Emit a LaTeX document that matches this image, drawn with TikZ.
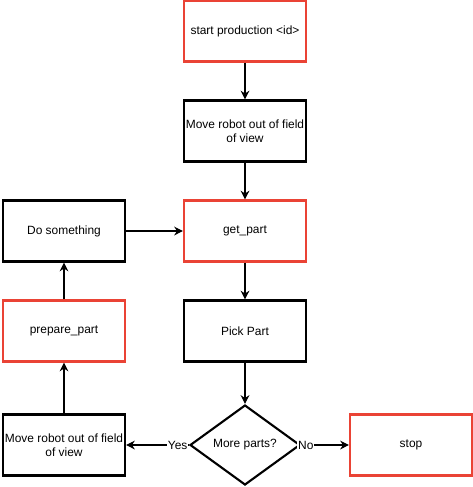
\documentclass[tikz,border=0pt]{standalone}
\usepackage{fontspec}
\setmainfont{Liberation Sans}
\usetikzlibrary{shapes.geometric,arrows.meta}
\definecolor{stepred}{RGB}{234,67,53}
\begin{document}
\begin{tikzpicture}[x=0.02cm,y=-0.02cm,font=\fontsize{6.8}{8.2}\selectfont]
        \tikzstyle{task}=[rectangle,draw=black,line width=1.2pt,fill=white,minimum width=2.44cm,minimum height=1.22cm,align=center,inner sep=0pt]
        \tikzstyle{call}=[task,draw=stepred]
        \tikzstyle{choice}=[diamond,draw=black,line width=1.2pt,fill=white,minimum width=2.2cm,minimum height=1.6cm,aspect=1.375,inner sep=0pt]
        \tikzstyle{edge}=[draw,line width=0.6pt,-{Stealth[length=5pt,width=5pt]}]
        \tikzstyle{lbl}=[fill=white,inner sep=0.5pt]
        \useasboundingbox (0,0) rectangle (473,487);
       \begin{scope}
         \node [call] (start) at (245,31) {start production <id>};
         \node [task] (move1) at (245,131) {Move robot out of field\\of view};
         \node [call] (get) at (245,231) {get\_part};
         \node [task] (pick) at (245,331) {Pick Part};
         \node [choice] (more) at (245,445) {More parts?};
         \node [call] (stop) at (411,445) {stop};
         \node [task] (move2) at (64,445) {Move robot out of field\\of view};
         \node [call] (prep) at (64,331) {prepare\_part};
         \node [task] (do) at (64,231) {Do something};
         \path[edge] (start) -- (move1);
         \path[edge] (move1) -- (get);
         \path[edge] (get) -- (pick);
         \path[edge] (pick) -- (more);
         \path[edge] (more) -- node[lbl,pos=0.1] {No} (stop);
         \path[edge] (more) -- node[lbl,pos=0.18] {Yes} (move2);
         \path[edge] (move2) -- (prep);
         \path[edge] (prep) -- (do);
         \path[edge] (do) -- (get);
        \end{scope}
      \end{tikzpicture}
\end{document}
